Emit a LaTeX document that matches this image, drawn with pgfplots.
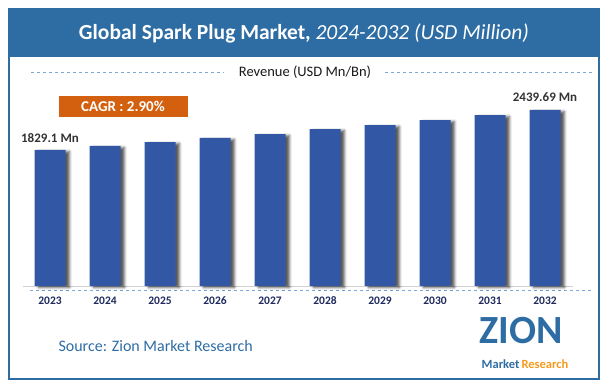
\documentclass[border=0pt]{standalone}
\usepackage{pgfplots}
\pgfplotsset{compat=1.18}
\usepackage{fontspec}
\setmainfont{Carlito}
\usetikzlibrary{shadows.blur}
\definecolor{band}{HTML}{2E6DA4}
\definecolor{barblue}{HTML}{3258A5}
\definecolor{cagr}{HTML}{D2600E}
\definecolor{navy}{HTML}{1F2A5C}
\definecolor{dashblue}{HTML}{7FA6D8}
\definecolor{logoorange}{HTML}{F39A1E}
\begin{document}
\begin{tikzpicture}[x=1pt,y=1pt]
\path[use as bounding box] (0,0) rectangle (609,388);
\fill[band] (9,388-9) rectangle (599,388-57);
\draw[band,line width=2.5pt] (9,388-9) rectangle (599,388-379);
\node[text=white,font=\fontsize{21.5}{24}\selectfont] at (304,388-33)
  {\textbf{Global Spark Plug Market,} \textit{2024-2032 (USD Million)}};
\draw[dashblue,dashed,line width=0.8pt] (31,388-72) -- (224,388-72);
\draw[dashblue,dashed,line width=0.8pt] (385,388-72) -- (592,388-72);
\node[text=black!90,font=\fontsize{14.5}{16}\selectfont] at (305,388-72) {Revenue (USD Mn/Bn)};
\fill[cagr] (59,388-96) rectangle (188,388-117);
\node[text=white,font=\bfseries\fontsize{15}{17}\selectfont] at (123,388-106.5) {CAGR : 2.90\%};
\draw[dashblue,dashed,line width=0.8pt] (30,388-290.5) -- (592,388-290.5);
\begin{axis}[
  at={(22.5pt,102pt)}, anchor=south west,
  scale only axis, width=550pt, height=176pt,
  xmin=-0.5, xmax=9.5, ymin=0, ymax=2686.69,
  clip=false,
  axis x line*=bottom, axis y line=none,
  x axis line style={draw=black!18, line width=0.8pt, -},
  xtick={0,...,9},
  xticklabels={2023,2024,2025,2026,2027,2028,2029,2030,2031,2032},
  xtick style={draw=none},
  xticklabel style={anchor=center, yshift=-15pt, text=navy, font=\bfseries\fontsize{11.5}{13}\selectfont},
  ytick=\empty,
]
\addplot[ybar, bar width=31pt, fill=barblue, draw=none,
  y filter/.expression={y+247},
  blur shadow={shadow xshift=4pt, shadow yshift=-1.5pt, shadow blur radius=2.5pt, shadow opacity=65}]
  coordinates {(0,1829.1) (1,1890.2) (2,1951.2) (3,2012.3) (4,2073.3)
               (5,2149.6) (6,2210.7) (7,2287.0) (8,2363.3) (9,2439.69)};
\node[anchor=center, text=black!80, font=\bfseries\fontsize{13}{15}\selectfont, yshift=12pt] at (axis cs:0,2076.1) {1829.1 Mn};
\node[anchor=center, text=black!80, font=\bfseries\fontsize{13}{15}\selectfont, yshift=13pt] at (axis cs:9,2686.69) {2439.69 Mn};
\end{axis}
\node[anchor=west, text=band, font=\fontsize{16}{18}\selectfont] at (55,388-346) {Source: Zion Market Research};
\node[inner sep=0pt, text=band, font=\bfseries\fontsize{40}{42}\selectfont] at (521,388-331) {ZION};
\node[inner sep=0pt, font=\bfseries\fontsize{12.5}{14}\selectfont] at (525,388-364) {\textcolor{band}{Market}\,\textcolor{logoorange}{Research}};
\end{tikzpicture}
\end{document}
